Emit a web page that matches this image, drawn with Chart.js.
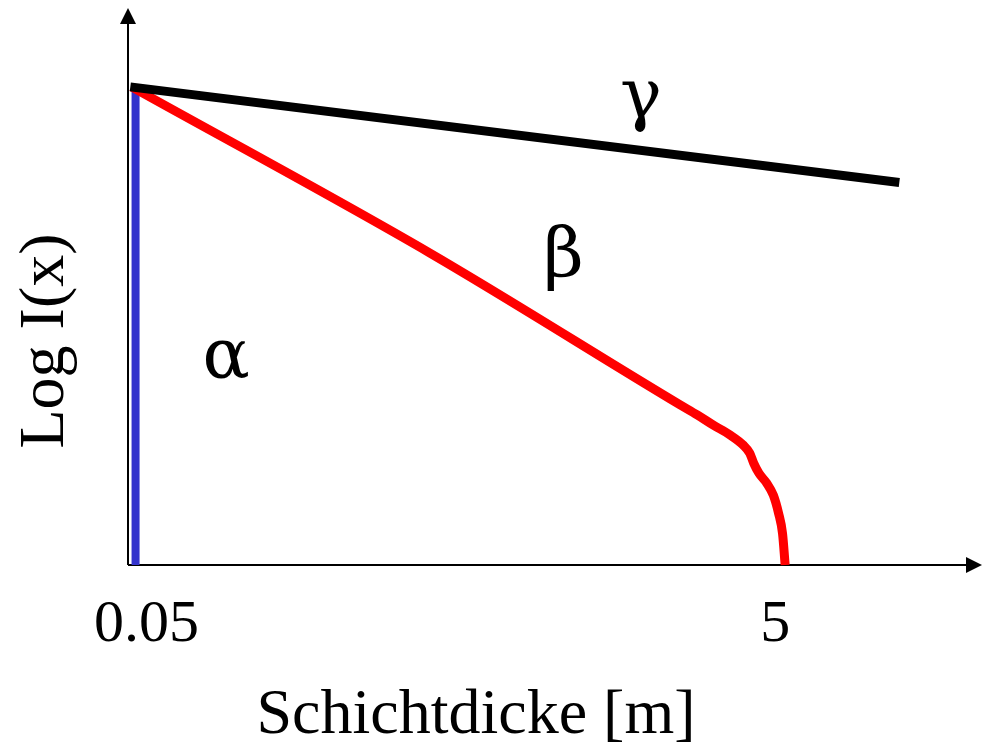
<!DOCTYPE html>
<html>
<head>
<meta charset="utf-8">
<script src="https://cdn.jsdelivr.net/npm/chart.js@4.4.1/dist/chart.umd.min.js"></script>
<style>
  html, body { margin: 0; padding: 0; background: #ffffff; }
  #wrap { width: 984px; height: 748px; }
</style>
</head>
<body>
<div id="wrap"><canvas id="c" width="984" height="748"></canvas></div>
<script>
// Layer thickness (x) against log intensity (y) for alpha, beta and gamma radiation
const alphaX = [0.05, 0.05];
const alphaY = [0, 10];

const betaX = [0.02, 2.29, 4.20, 4.33, 4.45, 4.58, 4.68, 4.73, 4.76, 4.80, 4.86, 4.91, 4.95, 4.98, 5.00];
const betaY = [10, 6.53, 3.35, 3.14, 2.93, 2.72, 2.51, 2.34, 2.13, 1.92, 1.71, 1.46, 1.08, 0.66, 0];

const gammaX = [0.01, 5.87];
const gammaY = [10, 8];

const tickValues = [0.05, 5];
const tickLabels = ['0.05', '5'];

const xTitle = 'Schichtdicke [m]';
const yTitle = 'Log I(x)';
const curveNames = ['\u03B1', '\u03B2', '\u03B3'];

const toPoints = (xs, ys) => xs.map((x, i) => ({ x: x, y: ys[i] }));

const SERIF = '"Liberation Serif", "Times New Roman", serif';
const GREEK = '"DejaVu Serif", "Liberation Serif", serif';

// Axes with arrowheads, tick labels, axis titles and curve names
const decor = {
  id: 'decor',
  beforeDatasetsDraw(chart) {
    const { ctx, chartArea: a } = chart;
    const ax = a.left - 1, ay = a.bottom;
    ctx.save();
    ctx.strokeStyle = '#000';
    ctx.fillStyle = '#000';
    ctx.lineWidth = 2;
    ctx.beginPath();
    ctx.moveTo(ax, ay);
    ctx.lineTo(ax, a.top + 14);
    ctx.moveTo(ax, ay);
    ctx.lineTo(a.right - 14, ay);
    ctx.stroke();
    // arrowheads
    ctx.beginPath();
    ctx.moveTo(ax, a.top);
    ctx.lineTo(ax - 8, a.top + 16);
    ctx.lineTo(ax + 8, a.top + 16);
    ctx.closePath();
    ctx.fill();
    ctx.beginPath();
    ctx.moveTo(a.right, ay);
    ctx.lineTo(a.right - 16, ay - 8);
    ctx.lineTo(a.right - 16, ay + 8);
    ctx.closePath();
    ctx.fill();
    ctx.restore();
  },
  afterDraw(chart, args, opts) {
    const { ctx } = chart;
    const xs = chart.scales.x, ys = chart.scales.y;
    ctx.save();
    ctx.fillStyle = '#000';
    ctx.textAlign = 'center';
    ctx.textBaseline = 'alphabetic';

    // tick labels
    ctx.font = '60px ' + SERIF;
    tickValues.forEach((v, i) => {
      ctx.fillText(tickLabels[i], xs.getPixelForValue(v) + opts.tickNudge[i], opts.tickBaseline);
    });

    // axis titles
    ctx.font = '64px ' + SERIF;
    ctx.fillText(xTitle, opts.xTitlePos[0], opts.xTitlePos[1]);
    ctx.save();
    ctx.translate(opts.yTitlePos[0], opts.yTitlePos[1]);
    ctx.rotate(-Math.PI / 2);
    ctx.fillText(yTitle, 0, 0);
    ctx.restore();

    // curve names
    ctx.font = '70px ' + GREEK;
    opts.namePos.forEach((p, i) => {
      ctx.fillText(curveNames[i], xs.getPixelForValue(p[0]), ys.getPixelForValue(p[1]));
    });
    ctx.restore();
  }
};

new Chart(document.getElementById('c'), {
  type: 'line',
  data: {
    datasets: [
      {
        label: '\u03B3',
        data: toPoints(gammaX, gammaY),
        borderColor: '#000000',
        borderWidth: 9,
        borderCapStyle: 'butt',
        pointRadius: 0,
        clip: false
      },
      {
        label: '\u03B2',
        data: toPoints(betaX, betaY),
        borderColor: '#ff0000',
        borderWidth: 9,
        borderCapStyle: 'butt',
        cubicInterpolationMode: 'monotone',
        pointRadius: 0,
        clip: false
      },
      {
        label: '\u03B1',
        data: toPoints(alphaX, alphaY),
        borderColor: '#3333cc',
        borderWidth: 8,
        borderCapStyle: 'butt',
        pointRadius: 0,
        clip: false
      }
    ]
  },
  options: {
    responsive: false,
    animation: false,
    events: [],
    layout: { padding: { left: 129, top: 8, right: 2, bottom: 183 } },
    scales: {
      x: { type: 'linear', min: 0, max: 6.5, display: false },
      y: { type: 'linear', min: 0, max: 11.65, display: false }
    },
    plugins: {
      legend: { display: false },
      tooltip: { enabled: false },
      decor: {
        tickNudge: [11, -10],
        tickBaseline: 641,
        xTitlePos: [476, 733],
        yTitlePos: [63, 341],
        namePos: [[0.74, 3.93], [3.31, 6.03], [3.90, 9.35]]
      }
    }
  },
  plugins: [decor]
});
</script>
</body>
</html>
